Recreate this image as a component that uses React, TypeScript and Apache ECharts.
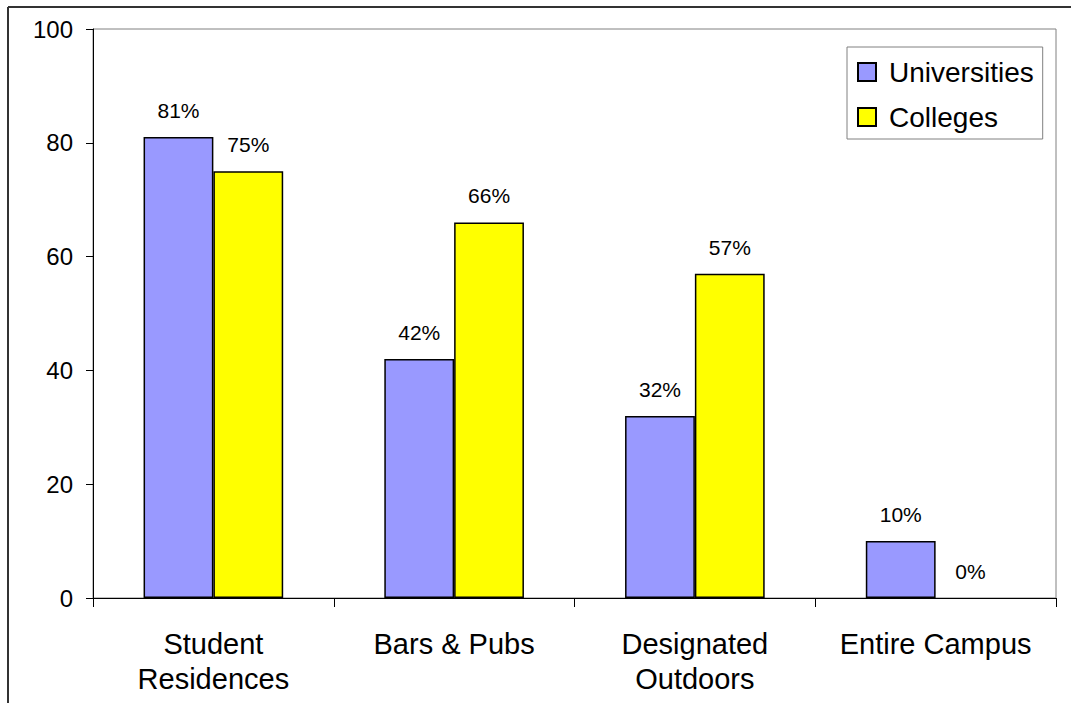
import React, { useEffect, useRef } from "react";
import * as echarts from "echarts";

const categories = ["Student\nResidences", "Bars & Pubs", "Designated\nOutdoors", "Entire Campus"];
const universities = [81, 42, 32, 10];
const colleges = [75, 66, 57, 0];
const yTicks = { min: 0, max: 100, interval: 20 };

const FONT = "Liberation Sans, Arial, sans-serif";

function toData(values: number[]) {
  return values.map((v) => (v === 0 ? { value: v, itemStyle: { borderWidth: 0 } } : v));
}

export default function App() {
  const ref = useRef<HTMLDivElement>(null);
  useEffect(() => {
    if (!ref.current) return;
    const chart = echarts.init(ref.current, undefined, { renderer: "svg" });
    const label = {
      show: true,
      position: "top",
      distance: 16,
      formatter: "{c}%",
      fontSize: 21,
      fontFamily: FONT,
      color: "#000",
    };
    chart.setOption({
      animation: false,
      backgroundColor: "#fff",
      textStyle: { fontFamily: FONT },
      grid: {
        left: 93,
        top: 29,
        right: 15,
        bottom: 105,
        show: true,
        borderColor: "#808080",
        borderWidth: 1,
        backgroundColor: "transparent",
      },
      legend: {
        orient: "vertical",
        left: 847,
        top: 47,
        padding: [11, 9, 8, 10],
        itemWidth: 18,
        itemHeight: 18,
        itemGap: 17,
        borderColor: "#808080",
        borderWidth: 1,
        icon: "rect",
        textStyle: { fontSize: 28, lineHeight: 28, color: "#000", fontFamily: FONT, padding: [0, 0, 0, 8] },
        data: ["Universities", "Colleges"],
      },
      xAxis: {
        type: "category",
        data: categories,
        axisLine: { show: true, lineStyle: { color: "#000", width: 1 } },
        axisTick: { show: true, length: 9, lineStyle: { color: "#000" } },
        axisLabel: {
          interval: 0,
          fontSize: 29,
          lineHeight: 35,
          margin: 28,
          color: "#000",
          fontFamily: FONT,
        },
        splitLine: { show: false },
      },
      yAxis: {
        type: "value",
        min: yTicks.min,
        max: yTicks.max,
        interval: yTicks.interval,
        axisLine: { show: true, lineStyle: { color: "#000", width: 1 } },
        axisTick: { show: true, length: 7, lineStyle: { color: "#000" } },
        axisLabel: { fontSize: 24, margin: 20, color: "#000", fontFamily: FONT },
        splitLine: { show: false },
      },
      series: [
        {
          name: "Universities",
          type: "bar",
          data: toData(universities),
          barGap: "0%",
          barCategoryGap: "42%",
          itemStyle: { color: "#9999FF", borderColor: "#000", borderWidth: 1.5 },
          label,
        },
        {
          name: "Colleges",
          type: "bar",
          data: toData(colleges),
          barGap: "0%",
          barCategoryGap: "42%",
          itemStyle: { color: "#FFFF00", borderColor: "#000", borderWidth: 1.5 },
          label,
        },
      ],
      graphic: [
        {
          type: "line",
          shape: { x1: 8, y1: 7, x2: 1071, y2: 7 },
          style: { stroke: "#333", lineWidth: 2 },
        },
        {
          type: "line",
          shape: { x1: 8, y1: 7, x2: 8, y2: 703 },
          style: { stroke: "#333", lineWidth: 2 },
        },
      ],
    });
    return () => chart.dispose();
  }, []);
  return (
    <div
      ref={ref}
      style={{ position: "absolute", left: 0, top: 0, width: 1071, height: 703 }}
    />
  );
}
